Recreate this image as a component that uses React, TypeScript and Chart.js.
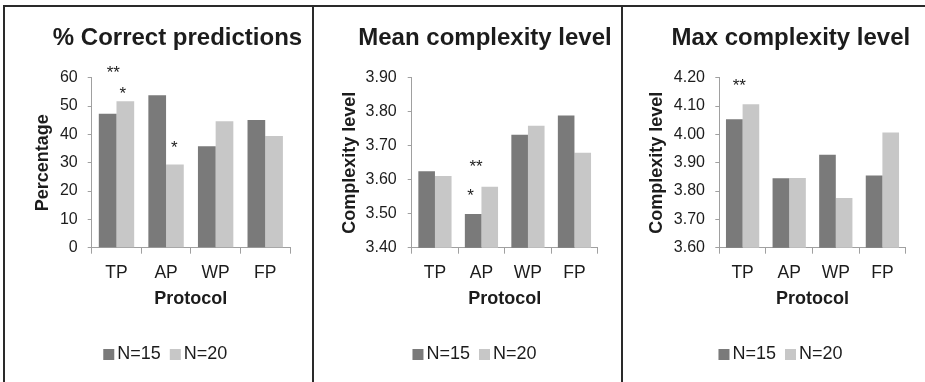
import React, { useEffect, useRef } from 'react';
import { Chart, registerables } from 'chart.js';

Chart.register(...registerables);

// ---------- data ----------
const categories = ['TP', 'AP', 'WP', 'FP'];
const seriesLabels = ['N=15', 'N=20'];

const correctN15 = [47.3, 53.8, 35.8, 45.1];
const correctN20 = [51.7, 29.4, 44.6, 39.4];
const correctTicks = [0, 10, 20, 30, 40, 50, 60];

const meanN15 = [3.625, 3.499, 3.732, 3.789];
const meanN20 = [3.611, 3.579, 3.759, 3.679];
const meanTicks = [3.4, 3.5, 3.6, 3.7, 3.8, 3.9];

const maxN15 = [4.053, 3.845, 3.928, 3.855];
const maxN20 = [4.106, 3.846, 3.775, 4.007];
const maxTicks = [3.6, 3.7, 3.8, 3.9, 4.0, 4.1, 4.2];

// significance marks: category index, value (y) where the mark sits, text
const correctMarks = [
  { cat: 0, value: 63.5, text: '**' },
  { cat: 0, value: 55.9, text: '*' },
  { cat: 1, value: 36.9, text: '*' },
];
const meanMarks = [
  { cat: 1, value: 3.65, text: '**' },
  { cat: 1, value: 3.567, text: '*' },
];
const maxMarks = [{ cat: 0, value: 4.188, text: '**' }];

const titles = ['% Correct predictions', 'Mean complexity level', 'Max complexity level'];
const yTitles = ['Percentage', 'Complexity level', 'Complexity level'];
const xTitle = 'Protocol';

// ---------- styles ----------
const FONT = '"Liberation Sans", Arial, Helvetica, sans-serif';
const TEXT = '#1c1c1c';
const DARK = '#7a7a7a';
const LIGHT = '#c7c7c7';
const AXIS = '#a0a0a0';
const H = 382;

const markShift = [
  [-0.065, 0.125, 0.165],
  [-0.117, -0.232],
  [-0.07],
];

const panels = [
  {
    left: 4, width: 309, padLeft: 30.3, axisWidth: 57.4, tickPad: 10, padRight: 23,
    titleX: 173.5, legendX: 161.3, decimals: 0,
    s1: correctN15, s2: correctN20, ticks: correctTicks, marks: correctMarks,
  },
  {
    left: 313, width: 309, padLeft: 28.3, axisWidth: 70.4, tickPad: 11, padRight: 24.3,
    titleX: 172, legendX: 161.5, decimals: 2,
    s1: meanN15, s2: meanN20, ticks: meanTicks, marks: meanMarks,
  },
  {
    left: 622, width: 303, padLeft: 25.7, axisWidth: 71.6, tickPad: 10.3, padRight: 19.3,
    titleX: 168.8, legendX: 158.5, decimals: 2,
    s1: maxN15, s2: maxN20, ticks: maxTicks, marks: maxMarks,
  },
];

const decorPlugin = {
  id: 'decor',
  afterDraw(chart: any, _args: any, opts: any) {
    const ctx = chart.ctx;
    const xs = chart.scales.x;
    const ys = chart.scales.y;
    ctx.save();
    // title
    ctx.font = `bold 24px ${FONT}`;
    ctx.fillStyle = TEXT;
    ctx.textAlign = 'center';
    ctx.textBaseline = 'alphabetic';
    ctx.fillText(opts.title, opts.titleX, 44.7);
    // significance marks
    const starSize = 17;
    ctx.font = `${starSize}px ${FONT}`;
    const catW = xs.width / categories.length;
    opts.marks.forEach((m: any, i: number) => {
      const px = xs.getPixelForValue(m.cat) + opts.shifts[i] * catW;
      const py = ys.getPixelForValue(m.value) + 0.575 * starSize;
      ctx.fillText(m.text, px, py);
    });
    // legend
    ctx.font = `18px ${FONT}`;
    const items = chart.data.datasets.map((d: any) => ({
      text: d.label,
      color: d.backgroundColor,
      w: ctx.measureText(d.label).width,
    }));
    const box = 11, gapBox = 3, gapItem = 9;
    const total =
      items.reduce((a: number, it: any) => a + box + gapBox + it.w, 0) + gapItem * (items.length - 1);
    let lx = opts.legendX - total / 2;
    const ly = 354.5;
    ctx.textAlign = 'left';
    ctx.textBaseline = 'middle';
    for (const it of items) {
      ctx.fillStyle = it.color;
      ctx.fillRect(lx, ly - box / 2, box, box);
      lx += box + gapBox;
      ctx.fillStyle = TEXT;
      ctx.fillText(it.text, lx, ly);
      lx += it.w + gapItem;
    }
    ctx.restore();
  },
};

function Panel({ idx }: { idx: number }) {
  const ref = useRef<HTMLCanvasElement | null>(null);
  const cfg = panels[idx];
  useEffect(() => {
    if (!ref.current) return;
    const chart = new Chart(ref.current, {
      type: 'bar',
      data: {
        labels: categories,
        datasets: [
          { label: seriesLabels[0], data: cfg.s1, backgroundColor: DARK, borderWidth: 0, categoryPercentage: 0.714, barPercentage: 1 },
          { label: seriesLabels[1], data: cfg.s2, backgroundColor: LIGHT, borderWidth: 0, categoryPercentage: 0.714, barPercentage: 1 },
        ],
      },
      options: {
        responsive: false,
        animation: false,
        devicePixelRatio: 1,
        events: [],
        layout: { padding: { top: 77.7, bottom: 73.7, left: cfg.padLeft, right: cfg.padRight } },
        plugins: {
          legend: { display: false },
          title: { display: false },
          tooltip: { enabled: false },
          decor: {
            title: titles[idx],
            titleX: cfg.titleX,
            legendX: cfg.legendX,
            marks: cfg.marks,
            shifts: markShift[idx],
          },
        } as any,
        scales: {
          x: {
            grid: { display: true, drawOnChartArea: false, drawTicks: true, tickLength: 6, color: AXIS, offset: true },
            border: { display: true, color: AXIS, width: 1 },
            ticks: { color: TEXT, font: { family: FONT, size: 17.5, lineHeight: 1 }, padding: 10.3, maxRotation: 0 },
            title: {
              display: true,
              text: xTitle,
              color: TEXT,
              font: { family: FONT, size: 18, weight: 'bold', lineHeight: 1 },
              padding: { top: -1.5, bottom: 0 },
            },
          },
          y: {
            min: cfg.ticks[0],
            max: cfg.ticks[cfg.ticks.length - 1],
            afterBuildTicks: (s: any) => {
              s.ticks = cfg.ticks.map((v) => ({ value: v }));
            },
            afterFit: (s: any) => {
              s.width = cfg.axisWidth;
            },
            grid: { display: true, drawOnChartArea: false, drawTicks: true, tickLength: 4, color: AXIS },
            border: { display: true, color: AXIS, width: 1 },
            ticks: {
              color: TEXT,
              font: { family: FONT, size: 16, lineHeight: 1 },
              padding: cfg.tickPad,
              callback: (v: any) => Number(v).toFixed(cfg.decimals),
            },
            title: {
              display: true,
              text: yTitles[idx],
              color: TEXT,
              font: { family: FONT, size: 18, weight: 'bold', lineHeight: 1 },
              padding: { top: 0, bottom: 0 },
            },
          },
        },
      },
      plugins: [decorPlugin],
    });
    return () => chart.destroy();
  }, []);
  return (
    <canvas
      ref={ref}
      width={cfg.width}
      height={H}
      style={{ position: 'absolute', left: cfg.left, top: 0, width: cfg.width, height: H, display: 'block' }}
    />
  );
}

export default function App() {
  const line = '#2a2a2a';
  return (
    <div style={{ position: 'fixed', left: 0, top: 0, width: 925, height: H, background: '#fff', overflow: 'hidden' }}>
      <Panel idx={0} />
      <Panel idx={1} />
      <Panel idx={2} />
      <div style={{ position: 'absolute', left: 3, top: 5, width: 922, height: 2, background: line }} />
      <div style={{ position: 'absolute', left: 3, top: 5, width: 2, height: H, background: line }} />
      <div style={{ position: 'absolute', left: 312, top: 5, width: 2, height: H, background: line }} />
      <div style={{ position: 'absolute', left: 621, top: 5, width: 2, height: H, background: line }} />
    </div>
  );
}
